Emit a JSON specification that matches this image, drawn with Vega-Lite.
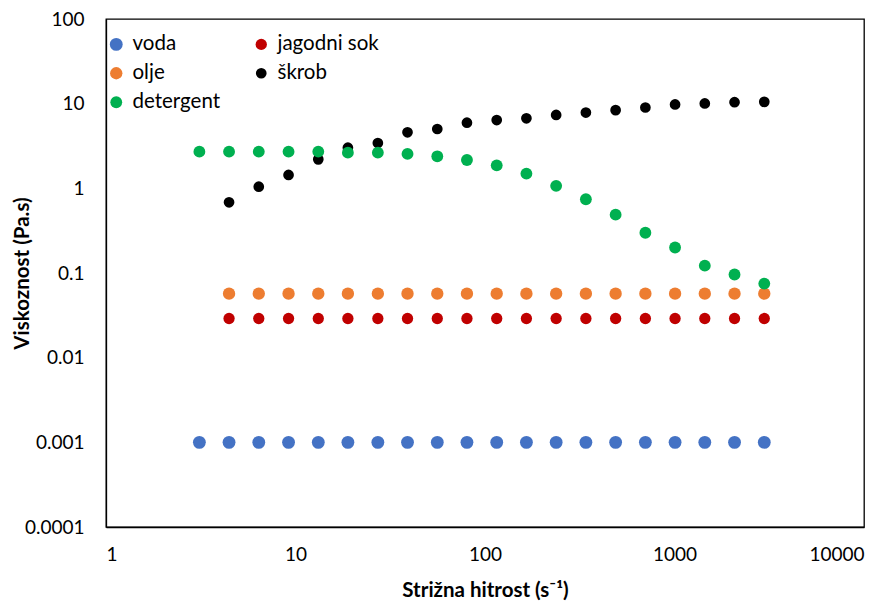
{
  "$schema": "https://vega.github.io/schema/vega-lite/v6.json",
  "width": 758,
  "height": 508,
  "autosize": "none",
  "padding": {"left": 106, "top": 19, "right": 30, "bottom": 77},
  "background": "white",
  "config": {
    "font": "Lato",
    "view": {"stroke": "black", "strokeWidth": 1.3},
    "axis": {"grid": false, "ticks": false, "domainColor": "black", "domainWidth": 1.3, "labelColor": "black", "titleColor": "black", "labelFont": "Lato", "titleFont": "Lato", "labelFontSize": 19, "titleFontSize": 20.5, "titleFontWeight": "bold"}
  },
  "data": {
    "values": [
      {"series": "voda", "x": 3.11, "y": 0.001},
      {"series": "voda", "x": 4.46, "y": 0.001},
      {"series": "voda", "x": 6.4, "y": 0.001},
      {"series": "voda", "x": 9.19, "y": 0.001},
      {"series": "voda", "x": 13.19, "y": 0.001},
      {"series": "voda", "x": 18.9, "y": 0.001},
      {"series": "voda", "x": 27.2, "y": 0.001},
      {"series": "voda", "x": 39, "y": 0.001},
      {"series": "voda", "x": 56, "y": 0.001},
      {"series": "voda", "x": 80.3, "y": 0.001},
      {"series": "voda", "x": 115.3, "y": 0.001},
      {"series": "voda", "x": 165.4, "y": 0.001},
      {"series": "voda", "x": 237.4, "y": 0.001},
      {"series": "voda", "x": 340.7, "y": 0.001},
      {"series": "voda", "x": 489, "y": 0.001},
      {"series": "voda", "x": 702, "y": 0.001},
      {"series": "voda", "x": 1007, "y": 0.001},
      {"series": "voda", "x": 1445, "y": 0.001},
      {"series": "voda", "x": 2074, "y": 0.001},
      {"series": "voda", "x": 2977, "y": 0.001},
      {"series": "olje", "x": 4.46, "y": 0.057},
      {"series": "olje", "x": 6.4, "y": 0.057},
      {"series": "olje", "x": 9.19, "y": 0.057},
      {"series": "olje", "x": 13.19, "y": 0.057},
      {"series": "olje", "x": 18.9, "y": 0.057},
      {"series": "olje", "x": 27.2, "y": 0.057},
      {"series": "olje", "x": 39, "y": 0.057},
      {"series": "olje", "x": 56, "y": 0.057},
      {"series": "olje", "x": 80.3, "y": 0.057},
      {"series": "olje", "x": 115.3, "y": 0.057},
      {"series": "olje", "x": 165.4, "y": 0.057},
      {"series": "olje", "x": 237.4, "y": 0.057},
      {"series": "olje", "x": 340.7, "y": 0.057},
      {"series": "olje", "x": 489, "y": 0.057},
      {"series": "olje", "x": 702, "y": 0.057},
      {"series": "olje", "x": 1007, "y": 0.057},
      {"series": "olje", "x": 1445, "y": 0.057},
      {"series": "olje", "x": 2074, "y": 0.057},
      {"series": "olje", "x": 2977, "y": 0.057},
      {"series": "jagodni sok", "x": 4.46, "y": 0.029},
      {"series": "jagodni sok", "x": 6.4, "y": 0.029},
      {"series": "jagodni sok", "x": 9.19, "y": 0.029},
      {"series": "jagodni sok", "x": 13.19, "y": 0.029},
      {"series": "jagodni sok", "x": 18.9, "y": 0.029},
      {"series": "jagodni sok", "x": 27.2, "y": 0.029},
      {"series": "jagodni sok", "x": 39, "y": 0.029},
      {"series": "jagodni sok", "x": 56, "y": 0.029},
      {"series": "jagodni sok", "x": 80.3, "y": 0.029},
      {"series": "jagodni sok", "x": 115.3, "y": 0.029},
      {"series": "jagodni sok", "x": 165.4, "y": 0.029},
      {"series": "jagodni sok", "x": 237.4, "y": 0.029},
      {"series": "jagodni sok", "x": 340.7, "y": 0.029},
      {"series": "jagodni sok", "x": 489, "y": 0.029},
      {"series": "jagodni sok", "x": 702, "y": 0.029},
      {"series": "jagodni sok", "x": 1007, "y": 0.029},
      {"series": "jagodni sok", "x": 1445, "y": 0.029},
      {"series": "jagodni sok", "x": 2074, "y": 0.029},
      {"series": "jagodni sok", "x": 2977, "y": 0.029},
      {"series": "škrob", "x": 4.46, "y": 0.684},
      {"series": "škrob", "x": 6.4, "y": 1.045},
      {"series": "škrob", "x": 9.19, "y": 1.44},
      {"series": "škrob", "x": 13.19, "y": 2.2},
      {"series": "škrob", "x": 18.9, "y": 3.02},
      {"series": "škrob", "x": 27.2, "y": 3.43},
      {"series": "škrob", "x": 39, "y": 4.59},
      {"series": "škrob", "x": 56, "y": 5.02},
      {"series": "škrob", "x": 80.3, "y": 5.96},
      {"series": "škrob", "x": 115.3, "y": 6.41},
      {"series": "škrob", "x": 165.4, "y": 6.72},
      {"series": "škrob", "x": 237.4, "y": 7.35},
      {"series": "škrob", "x": 340.7, "y": 7.85},
      {"series": "škrob", "x": 489, "y": 8.38},
      {"series": "škrob", "x": 702, "y": 9.01},
      {"series": "škrob", "x": 1007, "y": 9.78},
      {"series": "škrob", "x": 1445, "y": 10.05},
      {"series": "škrob", "x": 2074, "y": 10.4},
      {"series": "škrob", "x": 2977, "y": 10.5},
      {"series": "detergent", "x": 3.11, "y": 2.71},
      {"series": "detergent", "x": 4.46, "y": 2.71},
      {"series": "detergent", "x": 6.4, "y": 2.71},
      {"series": "detergent", "x": 9.19, "y": 2.71},
      {"series": "detergent", "x": 13.19, "y": 2.71},
      {"series": "detergent", "x": 18.9, "y": 2.64},
      {"series": "detergent", "x": 27.2, "y": 2.64},
      {"series": "detergent", "x": 39, "y": 2.55},
      {"series": "detergent", "x": 56, "y": 2.39},
      {"series": "detergent", "x": 80.3, "y": 2.16},
      {"series": "detergent", "x": 115.3, "y": 1.87},
      {"series": "detergent", "x": 165.4, "y": 1.49},
      {"series": "detergent", "x": 237.4, "y": 1.07},
      {"series": "detergent", "x": 340.7, "y": 0.743},
      {"series": "detergent", "x": 489, "y": 0.489},
      {"series": "detergent", "x": 702, "y": 0.299},
      {"series": "detergent", "x": 1007, "y": 0.2},
      {"series": "detergent", "x": 1445, "y": 0.122},
      {"series": "detergent", "x": 2074, "y": 0.096},
      {"series": "detergent", "x": 2977, "y": 0.075}
    ]
  },
  "mark": {"type": "circle", "opacity": 1},
  "encoding": {
    "x": {"field": "x", "type": "quantitative", "scale": {"type": "log", "domain": [1, 10000], "nice": false}, "axis": {"values": [1, 10, 100, 1000, 10000], "format": "~g", "labelPadding": 18, "title": "Strižna hitrost (s⁻¹)", "titleY": 63, "titleBaseline": "middle"}},
    "y": {"field": "y", "type": "quantitative", "scale": {"type": "log", "domain": [0.0001, 100], "nice": false}, "axis": {"values": [0.0001, 0.001, 0.01, 0.1, 1, 10, 100], "format": "~g", "labelPadding": 22, "title": "Viskoznost (Pa.s)", "titleX": -84, "titleY": 254, "titleBaseline": "middle"}},
    "color": {"field": "series", "type": "nominal", "scale": {"domain": ["voda", "olje", "detergent", "jagodni sok", "škrob"], "range": ["#4472C4", "#ED7D31", "#00B050", "#C00000", "#000000"]}, "legend": {"title": null, "orient": "none", "legendX": 0, "legendY": 15, "columns": 2, "labelFontSize": 20.5, "labelFont": "Lato", "labelColor": "black", "symbolType": "circle", "symbolSize": 190, "symbolStrokeWidth": 0, "columnPadding": 30, "rowPadding": 8, "labelOffset": 6, "encode": {"symbols": {"update": {"size": {"value": 180}}}}}},
    "size": {"field": "series", "type": "nominal", "scale": {"domain": ["voda", "olje", "detergent", "jagodni sok", "škrob"], "range": [165, 115, 165, 165, 120]}, "legend": null}
  }
}
